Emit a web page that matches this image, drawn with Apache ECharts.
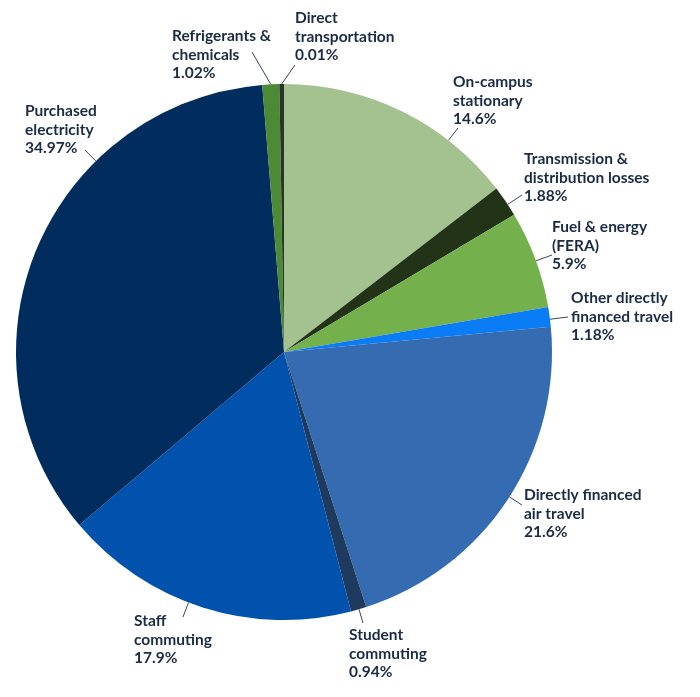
<!DOCTYPE html>
<html lang="en">
<head>
<meta charset="utf-8">
<title>Emissions by source</title>
<script src="https://cdn.jsdelivr.net/npm/echarts@6/dist/echarts.min.js"></script>
<style>
  html, body { margin: 0; padding: 0; background: #fff; }
  #pieDiv { width: 700px; height: 697px; }
</style>
</head>
<body>
<div id="pieDiv"></div>
<script type="text/javascript">
// categories, clockwise from 12 o'clock
var categories = [
  'On-campus\nstationary',
  'Transmission &\ndistribution losses',
  'Fuel & energy\n(FERA)',
  'Other directly\nfinanced travel',
  'Directly financed\nair travel',
  'Student\ncommuting',
  'Staff\ncommuting',
  'Purchased\nelectricity',
  'Refrigerants &\nchemicals',
  'Direct\ntransportation'
];
// share of emissions, %
var shares = [14.6, 1.88, 5.9, 1.18, 21.6, 0.94, 17.9, 34.97, 1.02, 0.01];

var colors = ['#a3c28f', '#233318', '#74b14c', '#0a7cf5', '#346bb1',
              '#1e3a5e', '#0052ad', '#002d5e', '#4c8a36', '#2a3527'];

var CX = 284, CY = 352, R = 268;

// label block top-left corner and where its leader line ends
// fromMid: line starts at the slice's middle instead of the nearest rim point
var labelPos = [
  { x: 453, y: 73,  end: [458, 128] },
  { x: 524, y: 150, end: [522, 195] },
  { x: 552, y: 218, end: [552, 255] },
  { x: 571, y: 289, end: [568, 317] },
  { x: 524, y: 486, end: [522, 505] },
  { x: 349, y: 626, end: [363, 623] },
  { x: 134, y: 612, end: [183, 617] },
  { x: 25,  y: 102, end: [85, 150] },
  { x: 172, y: 27,  end: [252, 52], fromMid: true },
  { x: 295, y: 9,   end: [295, 65], fromMid: true }
];

// point on the pie rim nearest to the leader line end
function rimPoint(end) {
  var dx = end[0] - CX, dy = end[1] - CY;
  var d = Math.sqrt(dx * dx + dy * dy);
  return [CX + dx / d * R, CY + dy / d * R];
}

var pieChart = echarts.init(document.getElementById('pieDiv'));

var pieData = categories.map(function (name, i) {
  return { name: name, value: shares[i], itemStyle: { color: colors[i] } };
});

var option = {
  animation: false,
  series: [
    {
      type: 'pie',
      center: [CX, CY],
      radius: R,
      startAngle: 90,
      clockwise: true,
      minAngle: 1,
      avoidLabelOverlap: false,
      data: pieData,
      label: {
        show: true,
        position: 'outside',
        formatter: '{b}\n{c}%',
        color: '#1b2a45',
        fontFamily: 'Lato',
        fontSize: 15.5,
        fontWeight: 'bold',
        lineHeight: 18.5,
        align: 'left'
      },
      labelLine: {
        show: true,
        length: 10,
        length2: 10,
        lineStyle: { color: '#3a4658', width: 1 }
      },
      labelLayout: function (params) {
        var p = labelPos[params.dataIndex];
        var pts = params.labelLinePoints;
        var start = (p.fromMid && pts) ? pts[0] : rimPoint(p.end);
        return {
          x: p.x,
          y: p.y,
          align: 'left',
          verticalAlign: 'top',
          labelLinePoints: [start, p.end, p.end]
        };
      }
    }
  ]
};

pieChart.setOption(option);
</script>
</body>
</html>
